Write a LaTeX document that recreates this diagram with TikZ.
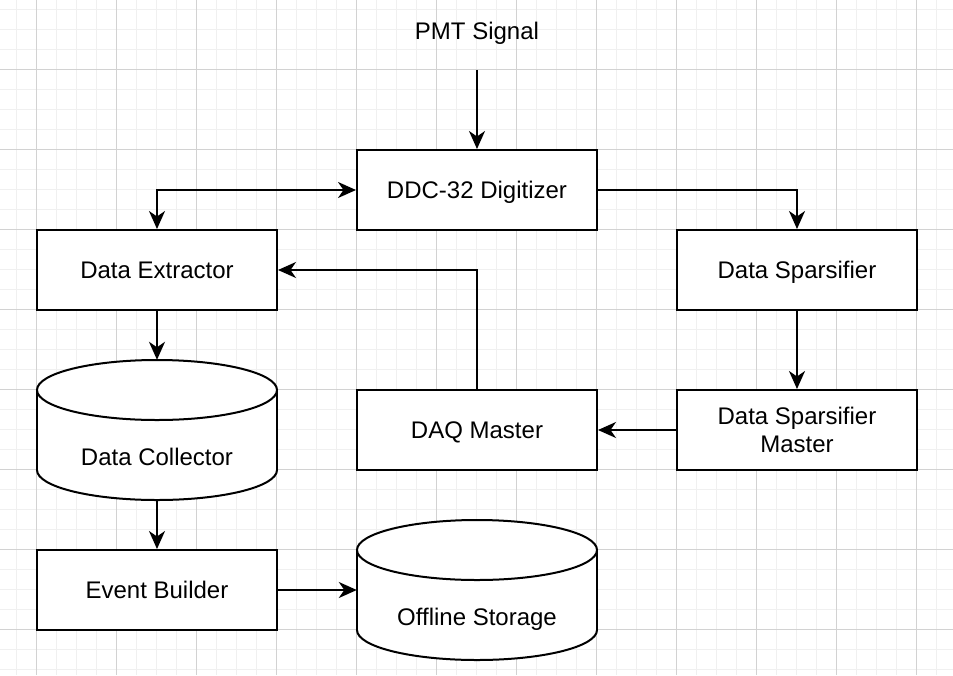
\documentclass[tikz,border=0pt]{standalone}
\usepackage{fontspec}
\setmainfont{Liberation Sans}
\usetikzlibrary{arrows.meta}
\definecolor{gridminor}{RGB}{240,240,240}
\definecolor{gridmajor}{RGB}{210,210,210}
\tikzset{
  boxnode/.style={draw=black, line width=2pt, fill=white, minimum width=240pt, minimum height=80pt, inner sep=0pt, align=center, font=\fontsize{24}{28.5}\selectfont},
  onebox/.style={boxnode, text height=17.2pt, text depth=0pt},
  cylnode/.style={minimum width=240pt, minimum height=140pt, inner sep=0pt},
  txt/.style={font=\fontsize{24}{28.5}\selectfont, inner sep=0pt, text height=17.2pt, text depth=0pt},
  tip/.style={Stealth[length=18pt,width=16pt,inset=5.5pt]},
  conn/.style={line width=2pt, -{Stealth[length=18pt,width=16pt,inset=5.5pt]}},
  biconn/.style={line width=2pt, {Stealth[length=18pt,width=16pt,inset=5.5pt]}-{Stealth[length=18pt,width=16pt,inset=5.5pt]}},
  cylline/.style={line width=2pt, draw=black, fill=white}
}
\begin{document}
\begin{tikzpicture}[x=1pt,y=-1pt]
\useasboundingbox (0,0) rectangle (953,675);
\fill[white] (0,0) rectangle (953,675);
% grid
\foreach \i in {0,...,48} \draw[gridminor, line width=1pt] ({-3.3+20*\i},0) -- ++(0,675);
\foreach \j in {0,...,33} \draw[gridminor, line width=1pt] (0,{9.3+20*\j}) -- ++(953,0);
\foreach \i in {0,...,11} \draw[gridmajor, line width=1pt] ({36.7+80*\i},0) -- ++(0,675);
\foreach \j in {0,...,8} \draw[gridmajor, line width=1pt] (0,{-10.7+80*\j}) -- ++(953,0);

% nodes
\node[txt] (pmt) at (477,30.5) {PMT Signal};
\coordinate (pmtend) at (477,70);
\node[onebox] (dig) at (477,190) {DDC-32 Digitizer};
\node[onebox] (dex) at (157,270) {Data Extractor};
\node[onebox] (dsp) at (797,270) {Data Sparsifier};
\node[boxnode] (dsm) at (797,430) {Data Sparsifier\\Master};
\node[onebox] (daq) at (477,430) {DAQ Master};
\node[onebox] (eb) at (157,590) {Event Builder};

% Data Collector cylinder
\node[cylnode] (dc) at (157,430) {};
\filldraw[cylline] (157,470) ellipse (120 and 30);
\fill[white] (37,390) rectangle (277,470);
\draw[line width=2pt] (37,390) -- (37,470);
\draw[line width=2pt] (277,390) -- (277,470);
\filldraw[cylline] (157,390) ellipse (120 and 30);
\node[txt] (dclabel) at (157,456.7) {Data Collector};

% Offline Storage cylinder
\node[cylnode] (os) at (477,590) {};
\filldraw[cylline] (477,630) ellipse (120 and 30);
\fill[white] (357,550) rectangle (597,630);
\draw[line width=2pt] (357,550) -- (357,630);
\draw[line width=2pt] (597,550) -- (597,630);
\filldraw[cylline] (477,550) ellipse (120 and 30);
\node[txt] (oslabel) at (477,616.7) {Offline Storage};

% connectors
\draw[conn] (pmtend) -- (dig.north);
\draw[biconn] (dig.west) -| (dex.north);
\draw[conn] (dig.east) -| (dsp.north);
\draw[conn] (dsp.south) -- (dsm.north);
\draw[conn] (dsm.west) -- (daq.east);
\draw[conn] (daq.north) |- (dex.east);
\draw[conn] (dex.south) -- (dc.north);
\draw[conn] (dc.south) -- (eb.north);
\draw[conn] (eb.east) -- (os.west);
\end{tikzpicture}
\end{document}
